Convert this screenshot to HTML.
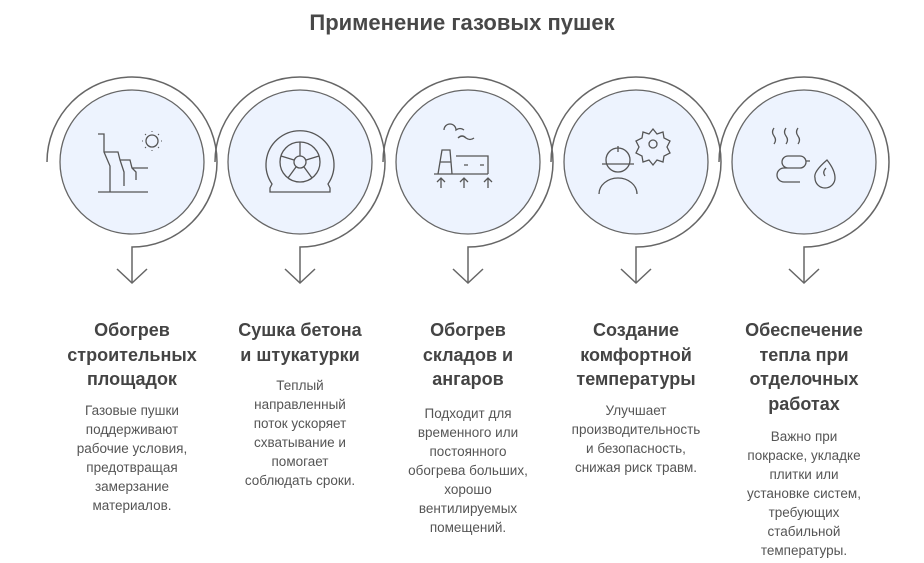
<!DOCTYPE html>
<html><head><meta charset="utf-8"><style>
body{margin:0;width:924px;height:563px;background:#fff;position:relative;overflow:hidden;font-family:"Liberation Sans",sans-serif;}
.t{position:absolute;top:10px;left:0;width:924px;text-align:center;font-size:22px;font-weight:bold;color:#484848;}
.c{position:absolute;top:318px;width:168px;text-align:center;}
.h{font-size:18px;font-weight:bold;color:#444;line-height:24.5px;}
.b{font-size:13.5px;color:#555;line-height:19px;margin-top:9px;}
svg{position:absolute;left:0;top:0}
</style></head><body>
<div class="t">Применение газовых пушек</div>
<svg width="924" height="563" fill="none" stroke="#555" stroke-width="1.3">
<defs>
<g id="ring">
<path d="M-85 0 A85 85 0 1 1 0 85 L0 121" stroke="#666" stroke-width="1.5"/>
<path d="M-15 107 L0 121 L15 107" stroke="#666" stroke-width="1.5"/>
<circle r="72" fill="#edf3fe" stroke="#666" stroke-width="1.3"/>
</g>
</defs>
<g transform="translate(132,162)"><use href="#ring"/>
<path d="M-34 -28 H-28 V-10 L-22 4 V30 M-28 -10 H-14 L-12 -2 L-8 10 V24 M-12 -2 H-2 L0 6 L4 10 V18 M0 6 H16 M-34 30 H16"/>
<circle cx="20" cy="-21" r="6"/>
<path d="M20 -31v1 M20 -12v1 M10 -21h1 M29 -21h1 M13 -28l1 1 M26 -15l1 1 M13 -14l1 -1 M26 -27l1 -1" stroke-width="1"/>
</g>
<g transform="translate(300,162)"><use href="#ring"/>
<path d="M-28 22 A34 34 0 1 1 28 22 L30 26 V30 H-30 V26 Z"/>
<circle r="20"/><circle r="6"/>
<path d="M0 -6V-20 M6 -2 L19 -6 M4 5 L12 16 M-4 5 L-12 16 M-6 -2 L-19 -6"/>
</g>
<g transform="translate(468,162)"><use href="#ring"/>
<path d="M-24 -32 a6 6 0 0 1 12 0 q4 -3 8 0 M-10 -24 q4 -4 8 0 q4 3 8 0 M-30 12 L-26 -12 H-18 L-16 12 M-28 0 H-17 M-12 -6 H20 V12 M-34 12 H20 M-4 3 h4 M12 3 h4 M-27 26 V16 M-31 20 L-27 16 L-23 20 M-4 26 V16 M-8 20 L-4 16 L0 20 M20 26 V16 M16 20 L20 16 L24 20"/>
</g>
<g transform="translate(636,162)"><use href="#ring"/>
<circle cx="-18" cy="-2" r="12"/><path d="M-34 2 H-2 M-18 -16 V-10 M-37 32 A19 16 0 0 1 1 32"/>
<circle cx="17" cy="-18" r="4"/>
<path d="M17 -33 l4 5 6 -2 1 6 6 3 -3 6 3 6 -6 3 -1 6 -6 -2 -4 5 -4 -5 -6 2 -1 -6 -6 -3 3 -6 -3 -6 6 -3 1 -6 6 2 z"/>
</g>
<g transform="translate(804,162)"><use href="#ring"/>
<path d="M-30 -34 q-3 4 0 8 q3 4 0 8 M-18 -34 q-3 4 0 8 q3 4 0 8 M-6 -34 q-3 4 0 8 q3 4 0 8"/>
<path d="M-16 -6 H-4 a6 6 0 0 1 0 12 H-16 a6 6 0 0 1 0 -12 M-4 6 H-20 a7 7 0 0 0 0 14 H-4 M2 -1 h4"/>
<path d="M23 -2 q-14 12 -12 18 a10 10 0 0 0 20 0 q0 -8 -8 -18 z M21 14 q-3 -4 1 -8"/>
</g>
</svg>
<div class="c" style="left:48px"><div class="h">Обогрев<br>строительных<br>площадок</div><div class="b">Газовые пушки<br>поддерживают<br>рабочие условия,<br>предотвращая<br>замерзание<br>материалов.</div></div>
<div class="c" style="left:216px"><div class="h">Сушка бетона<br>и штукатурки</div><div class="b">Теплый<br>направленный<br>поток ускоряет<br>схватывание и<br>помогает<br>соблюдать сроки.</div></div>
<div class="c" style="left:384px"><div class="h">Обогрев<br>складов и<br>ангаров</div><div class="b" style="margin-top:12px">Подходит для<br>временного или<br>постоянного<br>обогрева больших,<br>хорошо<br>вентилируемых<br>помещений.</div></div>
<div class="c" style="left:552px"><div class="h">Создание<br>комфортной<br>температуры</div><div class="b">Улучшает<br>производительность<br>и безопасность,<br>снижая риск травм.</div></div>
<div class="c" style="left:720px"><div class="h">Обеспечение<br>тепла при<br>отделочных<br>работах</div><div class="b" style="margin-top:11px">Важно при<br>покраске, укладке<br>плитки или<br>установке систем,<br>требующих<br>стабильной<br>температуры.</div></div>
</body></html>
